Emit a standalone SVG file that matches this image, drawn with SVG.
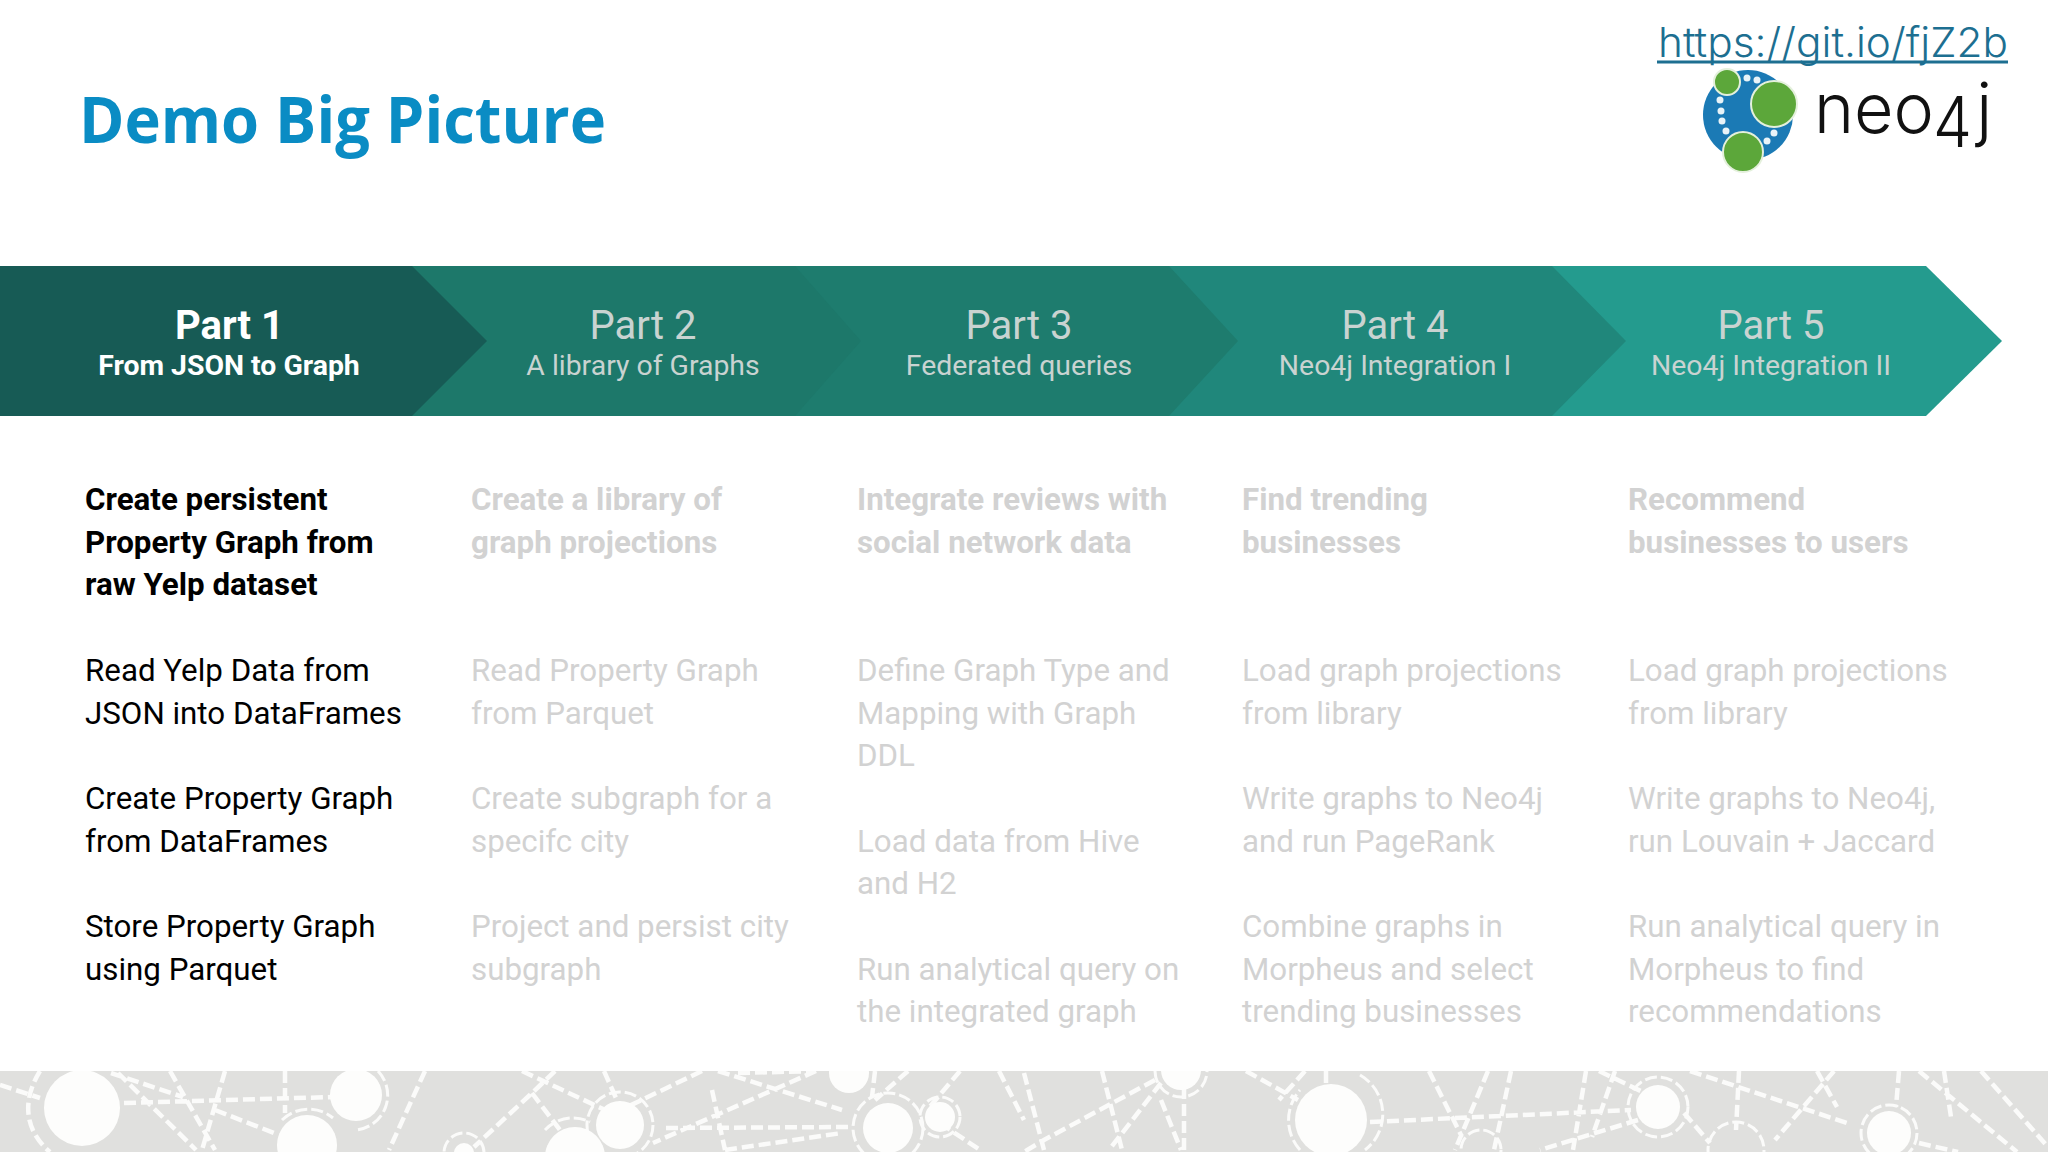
<svg xmlns="http://www.w3.org/2000/svg" width="2048" height="1152" viewBox="0 0 2048 1152">
<style>
text{font-family:"Roboto","Liberation Sans",sans-serif}
.h{font-size:40px;text-anchor:middle;fill:#c9d3d1}
.s{font-size:28.4px;text-anchor:middle;fill:#c9d3d1}
.hb{font-weight:700;fill:#fff}
.b{font-size:31.3px;fill:#d2d2d2}
.bb{font-weight:700}
.k{fill:#000}
.dash{fill:none;stroke:#fbfbfa;stroke-width:4.5;stroke-dasharray:12 5}
.ring{fill:none;stroke:#fbfbfa;stroke-width:3;stroke-dasharray:12 4}
.dot{fill:#fdfdfc}
.logo{font-family:Inter,sans-serif;font-weight:300;fill:#111}
</style>
<defs><clipPath id="bandclip"><rect x="0" y="1071" width="2048" height="81"/></clipPath></defs>
<rect width="2048" height="1152" fill="#fff"/>
<g id="band" clip-path="url(#bandclip)">
<rect x="0" y="1071" width="2048" height="81" fill="#e0e0de"/>
<g class="dash">
<path d="M0 1085L40 1098M111 1073L183 1097M118 1073L196 1150M170 1071L215 1150M225 1071L202 1150M124 1103L333 1097M215 1110L274 1133M285 1071L285 1113M425 1071L389 1150M522 1071L620 1117M555 1071L532 1093L474 1147M532 1093L575 1150M604 1071L620 1107M702 1071L627 1107M816 1071L653 1143M666 1128L849 1127M712 1090L725 1150M718 1071L842 1110M725 1150L842 1133M738 1073L816 1071M908 1071L875 1100M960 1071L927 1110M875 1071L872 1097M940 1123L980 1150M999 1071L1024 1120"/>
<path d="M1024 1073L1044 1150M1102 1071L1122 1150M1155 1080L1044 1140L1024 1152M1161 1083L1109 1150M1161 1100L1181 1150M1184 1087L1184 1150M1246 1071L1298 1100M1305 1071L1279 1100M1326 1071L1326 1083M1370 1122L1631 1110M1429 1071L1462 1137M1488 1071L1455 1150M1511 1071L1494 1150M1586 1071L1573 1150M1615 1071L1592 1137M1638 1120L1540 1150M1599 1071L1645 1093M1690 1071L1847 1123M1739 1071L1736 1130M1834 1071L1775 1140M1817 1071L1837 1107M1899 1071L1896 1107M1919 1071L2017 1152M1944 1071L1951 1117M1981 1071L2048 1147M1919 1143L1958 1152M1684 1113L1710 1143"/>
<path d="M40 1071C22 1100 24 1130 50 1152"/>
</g>
<g class="ring">
<path d="M378 1071A35 35 0 0 1 356 1130"/><path d="M282 1120A38 38 0 0 1 333 1118"/><circle cx="464" cy="1153" r="20"/><circle cx="620" cy="1125" r="33"/><path d="M545 1130A38 38 0 0 1 590 1122"/><circle cx="888" cy="1128" r="35"/><circle cx="940" cy="1117" r="20"/><path d="M1155 1071A26 26 0 0 0 1207 1071"/><path d="M1300 1150A45 45 0 0 1 1300 1090M1360 1075A45 45 0 0 1 1365 1150"/><circle cx="1658" cy="1107" r="30"/><circle cx="1736" cy="1150" r="28"/><circle cx="1889" cy="1133" r="28"/><circle cx="1481" cy="1150" r="20"/>
</g>
<g class="dot">
<circle cx="82" cy="1108" r="38"/><circle cx="356" cy="1095" r="26"/><circle cx="307" cy="1145" r="30"/><circle cx="620" cy="1125" r="24"/><circle cx="575" cy="1157" r="30"/><circle cx="888" cy="1128" r="25"/><circle cx="940" cy="1117" r="15"/><circle cx="849" cy="1073" r="20"/><circle cx="464" cy="1153" r="10"/><circle cx="1181" cy="1070" r="20"/><circle cx="1331" cy="1120" r="36"/><circle cx="1658" cy="1107" r="22"/><circle cx="1889" cy="1133" r="22"/>
</g>
</g>
<g id="title"><text x="79" y="143" font-size="64" font-weight="700" style="font-family:'Open Sans',sans-serif" fill="#0a8cc4" textLength="527" lengthAdjust="spacingAndGlyphs">Demo Big Picture</text></g>
<g id="link">
<text x="1658" y="57" font-size="41" font-weight="300" style="font-family:Inter,sans-serif" fill="#1d6f91" textLength="350" lengthAdjust="spacingAndGlyphs">https://git.io/fjZ2b</text>
<rect x="1657" y="60.5" width="351" height="3" fill="#1d6f91"/>
</g>
<g id="logo">
<circle cx="1748" cy="115" r="45" fill="#1b7ab5"/>
<g fill="#e8f3f8"><circle cx="1747" cy="78" r="3.5"/><circle cx="1757" cy="80" r="3.5"/><circle cx="1720" cy="100" r="3.5"/><circle cx="1721" cy="111" r="3.5"/><circle cx="1722" cy="121" r="3.5"/><circle cx="1726" cy="131" r="3.5"/><circle cx="1767" cy="141" r="3.5"/><circle cx="1774" cy="133" r="3.5"/></g>
<g fill="#5ca73a" stroke="#e4f0dc" stroke-width="2"><circle cx="1727" cy="82" r="13"/><circle cx="1774" cy="104" r="23"/><circle cx="1743" cy="152" r="20"/></g>
<text class="logo" x="1814" y="133" font-size="70" textLength="120" lengthAdjust="spacingAndGlyphs">neo</text>
<text class="logo" x="1933" y="147" font-size="70" textLength="39" lengthAdjust="spacingAndGlyphs">4</text>
<text class="logo" x="1976" y="133" font-size="70">j</text>
</g>
<g id="part5"><polygon points="1540,266 1926,266 2002,341 1926,416 1540,416" fill="#249b8e"/><text class="h" x="1771" y="339">Part 5</text><text class="s" x="1771" y="375">Neo4j Integration II</text></g>
<g id="part4"><polygon points="1160,266 1552,266 1626,341 1552,416 1160,416" fill="#20877b"/><text class="h" x="1395" y="339">Part 4</text><text class="s" x="1395" y="375">Neo4j Integration I</text></g>
<g id="part3"><polygon points="785,266 1169,266 1238,341 1169,416 785,416" fill="#1e7c6e"/><text class="h" x="1019" y="339">Part 3</text><text class="s" x="1019" y="375">Federated queries</text></g>
<g id="part2"><polygon points="400,266 795,266 861,341 795,416 400,416" fill="#1d786a"/><text class="h" x="643" y="339">Part 2</text><text class="s" x="643" y="375">A library of Graphs</text></g>
<g id="part1"><polygon points="0,266 412,266 487,341 412,416 0,416" fill="#175b55"/><text class="h hb" x="229.500" y="339">Part 1</text><text class="s hb" x="229" y="375">From JSON to Graph</text></g>
<g id="col1" class="b">
<text class="b bb k" x="85" y="510">Create persistent</text><text class="b bb k" x="85" y="553">Property Graph from</text><text class="b bb k" x="85" y="595">raw Yelp dataset</text>
<text class="b k" x="85" y="681">Read Yelp Data from</text><text class="b k" x="85" y="724">JSON into DataFrames</text>
<text class="b k" x="85" y="809">Create Property Graph</text><text class="b k" x="85" y="852">from DataFrames</text>
<text class="b k" x="85" y="937">Store Property Graph</text><text class="b k" x="85" y="980">using Parquet</text>
</g>
<g id="col2">
<text class="b bb" x="471" y="510">Create a library of</text><text class="b bb" x="471" y="553">graph projections</text>
<text class="b" x="471" y="681">Read Property Graph</text><text class="b" x="471" y="724">from Parquet</text>
<text class="b" x="471" y="809">Create subgraph for a</text><text class="b" x="471" y="852">specifc city</text>
<text class="b" x="471" y="937">Project and persist city</text><text class="b" x="471" y="980">subgraph</text>
</g>
<g id="col3">
<text class="b bb" x="857" y="510">Integrate reviews with</text><text class="b bb" x="857" y="553">social network data</text>
<text class="b" x="857" y="681">Define Graph Type and</text><text class="b" x="857" y="724">Mapping with Graph</text><text class="b" x="857" y="766">DDL</text>
<text class="b" x="857" y="852">Load data from Hive</text><text class="b" x="857" y="894">and H2</text>
<text class="b" x="857" y="980">Run analytical query on</text><text class="b" x="857" y="1022">the integrated graph</text>
</g>
<g id="col4">
<text class="b bb" x="1242" y="510">Find trending</text><text class="b bb" x="1242" y="553">businesses</text>
<text class="b" x="1242" y="681">Load graph projections</text><text class="b" x="1242" y="724">from library</text>
<text class="b" x="1242" y="809">Write graphs to Neo4j</text><text class="b" x="1242" y="852">and run PageRank</text>
<text class="b" x="1242" y="937">Combine graphs in</text><text class="b" x="1242" y="980">Morpheus and select</text><text class="b" x="1242" y="1022">trending businesses</text>
</g>
<g id="col5">
<text class="b bb" x="1628" y="510">Recommend</text><text class="b bb" x="1628" y="553">businesses to users</text>
<text class="b" x="1628" y="681">Load graph projections</text><text class="b" x="1628" y="724">from library</text>
<text class="b" x="1628" y="809">Write graphs to Neo4j,</text><text class="b" x="1628" y="852">run Louvain + Jaccard</text>
<text class="b" x="1628" y="937">Run analytical query in</text><text class="b" x="1628" y="980">Morpheus to find</text><text class="b" x="1628" y="1022">recommendations</text>
</g>
</svg>
